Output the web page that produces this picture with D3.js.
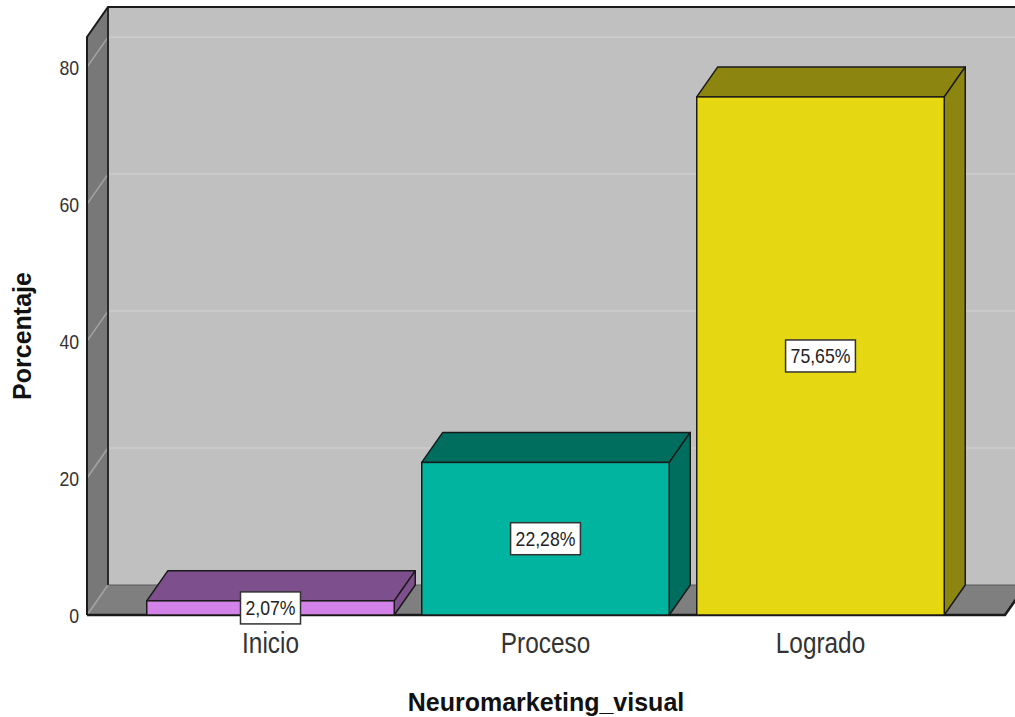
<!DOCTYPE html>
<html>
<head>
<meta charset="utf-8">
<script src="https://cdn.jsdelivr.net/npm/d3@7"></script>
<style>
  body { margin: 0; background: #fff; }
  svg { display: block; font-family: "Liberation Sans", Arial, sans-serif; }
</style>
</head>
<body>
<svg id="chart" width="1015" height="717"></svg>
<script>
// ===========
// DATA
// ===========
const categories = ["Inicio", "Proceso", "Logrado"];
const percentages = [2.07, 22.28, 75.65];
const yTicks = [0, 20, 40, 60, 80];
const yMax = 84.4;

// colours: front face, top/side face
const frontColors = ["#d383e8", "#00b4a0", "#e5d812"];
const shadeColors = ["#7d4f8c", "#006e5f", "#8c850f"];

// ===========
// LAYOUT
// ===========
const frontLeft = 87, frontRight = 1005;
const DX = 21, DY = -30;     // depth offset of the 3D box
const narrow = 0.84;          // the plain text uses a condensed face

const svg = d3.select("#chart");

const y = d3.scaleLinear().domain([0, yMax]).range([615, 37]);
const x = d3.scaleBand()
  .domain(categories)
  .range([133, 958])
  .paddingInner(0.1)
  .paddingOuter(0.05);

const line = d3.line();

function squeeze(sel) {
  sel.each(function () {
    const w = this.getComputedTextLength();
    d3.select(this).attr("textLength", w * narrow).attr("lengthAdjust", "spacingAndGlyphs");
  });
}

// ============
// WALLS
// ============
const y0 = y(0), yT = y(yMax);

// back wall
svg.append("rect")
  .attr("x", frontLeft + DX).attr("y", yT + DY)
  .attr("width", frontRight - frontLeft + 10).attr("height", y0 - yT)
  .attr("fill", "#c0c0c0");

// side wall
svg.append("path")
  .attr("d", line([[frontLeft, y0], [frontLeft, yT], [frontLeft + DX, yT + DY], [frontLeft + DX, y0 + DY]]) + "Z")
  .attr("fill", "#787878");

// floor
svg.append("path")
  .attr("d", line([[frontLeft, y0], [frontRight, y0], [frontRight + DX, y0 + DY], [frontLeft + DX, y0 + DY]]) + "Z")
  .attr("fill", "#7f7f7f");

// gridlines
const grid = svg.append("g");
yTicks.forEach(function (t) {
  if (t > 0) {
    grid.append("line")
      .attr("x1", frontLeft + DX).attr("x2", frontRight + DX + 20)
      .attr("y1", y(t) + DY).attr("y2", y(t) + DY)
      .attr("stroke", "#cdcdcd").attr("stroke-width", 1.5);
  }
  grid.append("line")
    .attr("x1", frontLeft).attr("x2", frontLeft + DX)
    .attr("y1", y(t)).attr("y2", y(t) + DY)
    .attr("stroke", "#a4a4a4").attr("stroke-width", 1.5);
});

// inner corner edges
svg.append("line")
  .attr("x1", frontLeft + DX).attr("x2", frontLeft + DX)
  .attr("y1", yT + DY).attr("y2", y0 + DY)
  .attr("stroke", "#2a2a2a").attr("stroke-width", 2);
svg.append("line")
  .attr("x1", frontLeft + DX).attr("x2", frontRight + DX + 20)
  .attr("y1", y0 + DY).attr("y2", y0 + DY)
  .attr("stroke", "#5a5a5a").attr("stroke-width", 1);

// outer edges
svg.append("path")
  .attr("d", line([[frontLeft, y0], [frontLeft, yT], [frontLeft + DX, yT + DY], [frontRight + DX + 20, yT + DY]]))
  .attr("fill", "none").attr("stroke", "#1a1a1a").attr("stroke-width", 2);
svg.append("path")
  .attr("d", line([[frontLeft, y0], [frontRight, y0], [frontRight + DX, y0 + DY]]))
  .attr("fill", "none").attr("stroke", "#1a1a1a").attr("stroke-width", 2.5);

// ============
// BARS
// ============
const bars = svg.append("g")
  .selectAll("g")
  .data(categories)
  .enter()
  .append("g");

bars.each(function (c, i) {
  const g = d3.select(this);
  const x0 = x(c), x1 = x(c) + x.bandwidth();
  const yv = y(percentages[i]);

  // top face
  g.append("path")
    .attr("d", line([[x0, yv], [x0 + DX, yv + DY], [x1 + DX, yv + DY], [x1, yv]]) + "Z")
    .attr("fill", shadeColors[i]).attr("stroke", "#1a1a1a").attr("stroke-width", 1.5)
    .attr("stroke-linejoin", "round");
  // side face
  g.append("path")
    .attr("d", line([[x1, yv], [x1 + DX, yv + DY], [x1 + DX, y0 + DY], [x1, y0]]) + "Z")
    .attr("fill", shadeColors[i]).attr("stroke", "#1a1a1a").attr("stroke-width", 1.5)
    .attr("stroke-linejoin", "round");
  // front face
  g.append("rect")
    .attr("x", x0).attr("y", yv)
    .attr("width", x.bandwidth()).attr("height", y0 - yv)
    .attr("fill", frontColors[i]).attr("stroke", "#1a1a1a").attr("stroke-width", 1.5);
});

// ============
// VALUE LABELS
// ============
const fmt = v => d3.format(".2f")(v).replace(".", ",") + "%";

bars.each(function (c, i) {
  const g = d3.select(this);
  const cx = x(c) + x.bandwidth() / 2;
  const cy = (y(percentages[i]) + y0) / 2;
  const box = g.append("rect");
  const txt = g.append("text")
    .attr("x", cx).attr("y", cy + 7)
    .attr("text-anchor", "middle")
    .attr("font-size", 21)
    .attr("fill", "#222")
    .text(fmt(percentages[i]));
  const w = txt.node().getComputedTextLength() * narrow + 10;
  squeeze(txt);
  box.attr("x", cx - w / 2).attr("y", cy - 16)
    .attr("width", w).attr("height", 32)
    .attr("fill", "#fff").attr("stroke", "#333").attr("stroke-width", 1.5);
});

// ============
// AXES
// ============
const yAxis = svg.append("g")
  .attr("transform", "translate(" + (frontLeft - 8) + ",0)")
  .call(d3.axisLeft(y).tickValues(yTicks).tickSize(0).tickPadding(0));
yAxis.select(".domain").remove();
yAxis.selectAll("text")
  .attr("font-size", 21)
  .attr("font-family", "Liberation Sans, Arial, sans-serif")
  .attr("fill", "#333")
  .attr("dy", "0.36em")
  .call(squeeze);

const xAxis = svg.append("g")
  .attr("transform", "translate(0," + y0 + ")")
  .call(d3.axisBottom(x).tickSize(0).tickPadding(0));
xAxis.select(".domain").remove();
xAxis.selectAll("text")
  .attr("font-size", 29)
  .attr("font-family", "Liberation Sans, Arial, sans-serif")
  .attr("fill", "#333")
  .attr("dy", 0)
  .attr("y", 38)
  .call(squeeze);

// ============
// TITLES
// ============
svg.append("text")
  .attr("text-anchor", "middle")
  .attr("transform", "translate(31,336)rotate(-90)")
  .attr("font-size", 25)
  .attr("font-weight", "bold")
  .attr("fill", "#111")
  .text("Porcentaje");

svg.append("text")
  .attr("text-anchor", "middle")
  .attr("x", 546).attr("y", 711)
  .attr("font-size", 25)
  .attr("font-weight", "bold")
  .attr("fill", "#111")
  .text("Neuromarketing_visual");
</script>
</body>
</html>
